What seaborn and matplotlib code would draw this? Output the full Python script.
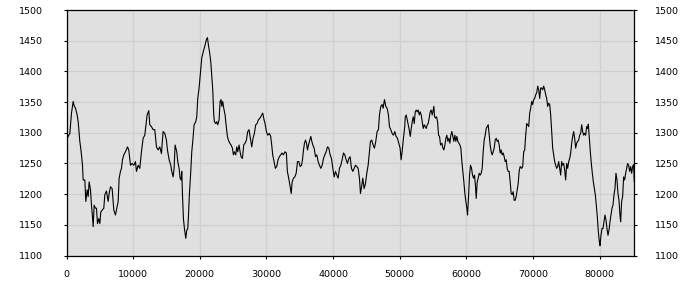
import matplotlib
matplotlib.use("Agg")
import matplotlib.pyplot as plt
import seaborn as sns
import pandas as pd

# ---- data ----
samples_a = [0,100,350,500,750,1000,1150,1350,1600,1750,1900,2000,2200,2400,2500,2750,2900,3100,3250,3400,
             3600,3750,3900,4000,4150,4350,4500,4650,4850,5000,5150,5350,5600,5750,6000,6250,6400,6600,6850,7100,
             7350,7500,7750,7900,8100,8250,8400,8600,8850,9150,9350,9600,9850,10100,10350,10500,10750,11000,11250,11500,
             11750,11900,12100,12350,12500,12750,13000,13250,13500,13750,14000,14250,14500,14750,15000,15150,15400,15650,15800,16000,
             16150]
values_a = [1330,1291,1296,1299,1332,1351,1344,1340,1329,1318,1299,1286,1269,1247,1223,1223,1188,1207,1196,1220,
            1207,1182,1163,1147,1182,1177,1177,1152,1160,1152,1171,1174,1177,1199,1205,1188,1201,1212,1209,1174,
            1166,1174,1188,1226,1237,1242,1256,1264,1269,1277,1272,1247,1250,1247,1253,1237,1247,1242,1269,1291,
            1296,1310,1329,1336,1313,1310,1305,1305,1277,1272,1277,1266,1302,1299,1288,1272,1256,1247,1237,1228,
            1242]

samples_b = [16300,16550,16700,16900,17050,17200,17300,17400,17550,17700,17900,18050,18200,18300,18450,18650,18800,18950,19150,19400,
             19550,19700,19900,20050,20300,20550,20800,21000,21150,21300,21450,21650,21800,21950,22100,22200,22400,22550,22700,22900,
             23050,23200,23300,23450,23600,23800,23950,24150,24300,24500,24700,24900,25050,25200,25400,25550,25700,25900,26050,26200,
             26400,26600,26800,27000,27200,27400,27600,27800,28000,28200,28400,28600,28800,29050,29300,29450,29650,29800,30000,30200,
             30450,30650,30800,30950,31150,31350,31550,31750,31950,32150,32350,32550,32800,33000,33150,33350]
values_b = [1280,1269,1253,1242,1226,1223,1237,1201,1160,1144,1128,1141,1144,1163,1201,1237,1269,1286,1313,1318,
            1326,1356,1373,1392,1422,1433,1443,1452,1455,1443,1433,1416,1394,1370,1329,1318,1315,1318,1313,1321,
            1351,1354,1343,1351,1340,1329,1313,1294,1288,1283,1280,1275,1264,1269,1264,1277,1269,1280,1269,1261,
            1258,1280,1283,1288,1302,1305,1291,1277,1291,1299,1313,1315,1321,1324,1329,1332,1321,1315,1302,1296,
            1299,1294,1280,1264,1253,1242,1245,1256,1261,1264,1267,1264,1269,1267,1237,1226]

samples_c = [33570,33720,33870,34070,34270,34470,34670,34870,35070,35270,35420,35570,35720,35870,36020,36170,36320,36470,36670,36820,
             36970,37170,37370,37570,37770,37970,38170,38370,38570,38770,38970,39170,39370,39570,39770,39970,40170,40370,40570,40770,
             40970,41170,41370,41570,41770,41970,42170,42370,42570,42770,42970,43170,43370,43570,43770,43970,44120,44320,44470,44670,
             44870,45070,45270,45470,45620,45820,46020,46220,46420,46620,46820,46970,47170,47370,47520,47720,47920,48120,48320,48470,
             48670,48870,49070,49270,49470,49670,49870,50070,50220,50370,50570,50770]
values_c = [1212,1201,1220,1226,1228,1234,1253,1253,1245,1247,1256,1272,1283,1288,1283,1272,1280,1286,1294,1286,
            1280,1275,1261,1264,1253,1247,1242,1247,1258,1264,1269,1277,1275,1264,1258,1242,1228,1237,1231,1226,
            1242,1247,1256,1267,1264,1256,1250,1258,1261,1242,1237,1242,1247,1245,1242,1226,1201,1214,1226,1209,
            1217,1234,1247,1269,1286,1288,1280,1275,1286,1302,1305,1329,1343,1346,1340,1354,1343,1340,1329,1310,
            1305,1299,1296,1302,1294,1291,1283,1275,1256,1269,1291,1310]

samples_d = [50840,50990,51140,51290,51440,51590,51740,51890,52040,52190,52340,52490,52640,52790,52940,53090,53240,53390,53540,53690,
             53840,53990,54140,54290,54440,54590,54740,54890,55040,55140,55240,55390,55540,55690,55840,55990,56140,56340,56490,56640,
             56790,56940,57090,57240,57390,57540,57690,57840,57990,58140,58290,58440,58590,58740,58890,59040,59190,59340,59490,59640,
             59790,59940,60090,60190,60340,60490,60640,60790,60940,61090,61240,61390,61490,61640,61790,61940,62090,62240,62390,62540,
             62690,62840,62990,63140,63290,63440,63590,63740,63890,64040,64190,64340,64490,64640,64790,64940,65090,65240,65390,65540,
             65690,65840,65990,66140,66290,66440,66590,66740,66890,67040,67190,67340,67490,67640,67790,67940,68090]
values_d = [1326,1329,1321,1313,1305,1294,1307,1318,1326,1315,1334,1337,1334,1337,1329,1334,1329,1318,1307,1313,
            1310,1307,1313,1315,1324,1334,1337,1329,1337,1343,1326,1324,1326,1318,1296,1294,1280,1283,1275,1272,
            1280,1291,1296,1286,1291,1283,1296,1302,1294,1286,1296,1286,1294,1286,1283,1280,1275,1253,1237,1220,
            1201,1188,1177,1166,1196,1231,1247,1242,1231,1226,1231,1212,1193,1220,1226,1234,1231,1234,1242,1269,
            1288,1296,1307,1310,1313,1296,1280,1269,1264,1269,1275,1288,1291,1286,1288,1280,1267,1272,1264,1267,
            1261,1253,1256,1242,1237,1237,1220,1201,1199,1204,1190,1190,1196,1207,1217,1237,1245]

samples_e = [68320,68470,68620,68770,68920,69070,69220,69370,69520,69670,69820,69970,70120,70270,70420,70570,70720,70870,71020,71170,
             71320,71470,71620,71770,71920,72070,72220,72370,72520,72670,72820,72970,73120,73270,73420,73570,73720,73870,74020,74170,
             74320,74470,74620,74770,74920,75070,75220,75370,75520,75670,75820,75970,76120,76270,76420,76570,76720,76870,77020,77170,
             77320,77470,77620,77770,77920,78070,78220,78320,78470,78620,78770,78920,79070,79220,79370,79520,79670,79820,79970,80070,
             80220,80370,80520,80670,80820,80970,81120,81270,81420,81570,81720,81870,82020,82170,82320,82470,82620,82770,82920,83070,
             83170,83320,83470,83620,83770,83920,84070,84220,84370,84520,84670,84820,84970,85120,85220]
values_e = [1242,1245,1269,1272,1296,1315,1313,1310,1332,1340,1351,1346,1354,1356,1362,1365,1376,1370,1356,1373,
            1373,1370,1376,1370,1362,1356,1343,1348,1346,1329,1302,1275,1264,1253,1247,1242,1245,1253,1242,1231,
            1253,1247,1250,1239,1223,1250,1242,1253,1258,1267,1283,1294,1302,1291,1275,1283,1286,1288,1296,1299,
            1313,1302,1296,1299,1296,1310,1307,1314,1291,1269,1250,1234,1220,1209,1199,1182,1163,1139,1123,1116,
            1133,1144,1144,1155,1166,1158,1144,1133,1141,1155,1166,1177,1182,1199,1209,1234,1223,1201,1190,1166,
            1155,1188,1196,1228,1223,1234,1242,1250,1247,1237,1245,1234,1245,1248,1220]

y_ticks = [1100, 1150, 1200, 1250, 1300, 1350, 1400, 1450, 1500]
x_ticks = [0, 10000, 20000, 30000, 40000, 50000, 60000, 70000, 80000]

df = pd.DataFrame({
    "sample": samples_a + samples_b + samples_c + samples_d + samples_e,
    "value": values_a + values_b + values_c + values_d + values_e,
})

sns.set_style("white")
plt.rcParams["font.family"] = ["DejaVu Sans"]

fig = plt.figure(figsize=(7, 3), dpi=100)
fig.patch.set_facecolor("white")
ax = fig.add_axes([66.5 / 700, 1 - 255.5 / 300, (634.3 - 66.5) / 700, (255.5 - 10) / 300])
ax.set_facecolor("#e0e0e0")

sns.lineplot(data=df, x="sample", y="value", ax=ax, color="black",
             linewidth=0.8, estimator=None, sort=False)

ax.set_xlim(0, 85220)
ax.set_ylim(1100, 1500)
ax.set_xticks(x_ticks)
ax.set_yticks(y_ticks)
ax.set_xticklabels([str(v) for v in x_ticks])
ax.set_yticklabels([str(v) for v in y_ticks])
ax.set_xlabel("")
ax.set_ylabel("")
ax.grid(True, color="#cfcfcf", linewidth=0.9)
ax.set_axisbelow(True)
for s in ax.spines.values():
    s.set_color("black")
    s.set_linewidth(0.9)
    s.set_visible(True)

ax.tick_params(axis="x", direction="out", length=2.2, width=0.8, color="black",
               labelsize=6.8, labelcolor="black", pad=8, bottom=True)
ax.tick_params(axis="y", direction="out", length=2.2, width=0.8, color="black",
               labelsize=6.8, labelcolor="black", pad=15, left=True)

ax2 = ax.twinx()
ax2.set_ylim(1100, 1500)
ax2.set_yticks(y_ticks)
ax2.set_yticklabels([str(v) for v in y_ticks])
ax2.tick_params(axis="y", direction="out", length=2.2, width=0.8, color="black",
                labelsize=6.8, labelcolor="black", pad=12.7, right=True)
for s in ax2.spines.values():
    s.set_visible(False)
ax2.grid(False)

fig.savefig("out.png", dpi=100)
